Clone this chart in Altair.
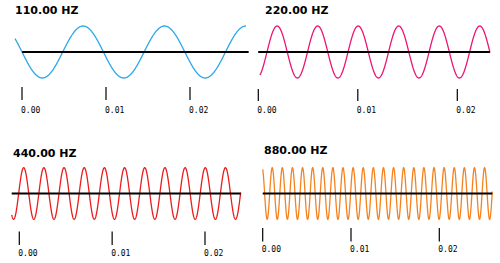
import numpy as np
import pandas as pd
import altair as alt

# ---- data -------------------------------------------------------------
FREQS = [110, 220, 440, 880]                      # Hz
TITLES = ["110.00 HZ", "220.00 HZ", "440.00 HZ", "880.00 HZ"]
COLORS = ["#2aa8ec", "#ec1474", "#ec1c1c", "#f5821f"]
TICK_VALUES = [0.0, 0.01, 0.02]
TICK_LABELS = ["0.00", "0.01", "0.02"]
DURATION = 0.0258        # seconds of signal shown per panel
START_TIME = 0.00376     # signal time at the left edge of each panel
BASE_START = [0.0008, -0.0002, 0.0, 0.0]   # zero-line extent (panel time)
BASE_END = [0.0261, 0.0258, 0.0258, 0.0258]
N_SAMPLES = 1400

# ---- layout (pixels) ---------------------------------------------------
LAYOUT = [
    dict(wx=[15, 246], wy=[78, 26], tx=[22, 190], ty=[87, 100], ly=111, title=(15, 11)),
    dict(wx=[260, 490], wy=[78, 26], tx=[258.3, 457.3], ty=[89, 101], ly=111, title=(265, 11)),
    dict(wx=[11.7, 240.7], wy=[219.3, 167.7], tx=[19.3, 205], ty=[231.5, 245], ly=253.5, title=(13, 154)),
    dict(wx=[262.7, 492.3], wy=[219.3, 167.7], tx=[262.7, 439.3], ty=[228, 241.5], ly=250, title=(264, 151)),
]

layers = []
for i, f in enumerate(FREQS):
    L = LAYOUT[i]
    t = np.linspace(0, DURATION, N_SAMPLES)
    wave = pd.DataFrame({"t": t, "v": np.sin(2 * np.pi * f * (t + START_TIME))})
    xs = alt.Scale(domain=[0, DURATION], range=L["wx"])
    ys = alt.Scale(domain=[-1, 1], range=L["wy"])

    line = alt.Chart(wave).mark_line(color=COLORS[i], strokeWidth=1.3).encode(
        x=alt.X("t:Q", scale=xs, axis=None),
        y=alt.Y("v:Q", scale=ys, axis=None),
    )
    base_df = pd.DataFrame({"s": [BASE_START[i]], "e": [BASE_END[i]], "z": [0.0]})
    base = alt.Chart(base_df).mark_rule(color="black", strokeWidth=2.2).encode(
        x=alt.X("s:Q", scale=xs, axis=None),
        x2="e:Q",
        y=alt.Y("z:Q", scale=ys, axis=None),
    )
    tick_df = pd.DataFrame({"tv": TICK_VALUES, "lab": TICK_LABELS})
    tsc = alt.Scale(domain=[0, 0.02], range=L["tx"])
    ticks = alt.Chart(tick_df).mark_rule(color="black", strokeWidth=1.2).encode(
        x=alt.X("tv:Q", scale=tsc, axis=None),
        y=alt.value(L["ty"][0]),
        y2=alt.value(L["ty"][1]),
    )
    labels = alt.Chart(tick_df).mark_text(
        align="left", baseline="middle", dx=-1,
        font="DejaVu Sans Mono", fontSize=8, color="black",
    ).encode(
        x=alt.X("tv:Q", scale=tsc, axis=None),
        y=alt.value(L["ly"]),
        text="lab:N",
    )
    title_df = pd.DataFrame({"title": [TITLES[i]]})
    title = alt.Chart(title_df).mark_text(
        align="left", baseline="middle", font="DejaVu Sans",
        fontSize=11, fontWeight="bold", color="black",
    ).encode(
        x=alt.value(L["title"][0]),
        y=alt.value(L["title"][1]),
        text="title:N",
    )
    layers += [line, base, ticks, labels, title]

chart = (
    alt.layer(*layers)
    .resolve_scale(x="independent", y="independent")
    .properties(width=500, height=263, padding=0, autosize="none", background="white")
    .configure_view(stroke=None)
)

chart.save("out.html", embed_options={"renderer": "svg", "actions": False})
